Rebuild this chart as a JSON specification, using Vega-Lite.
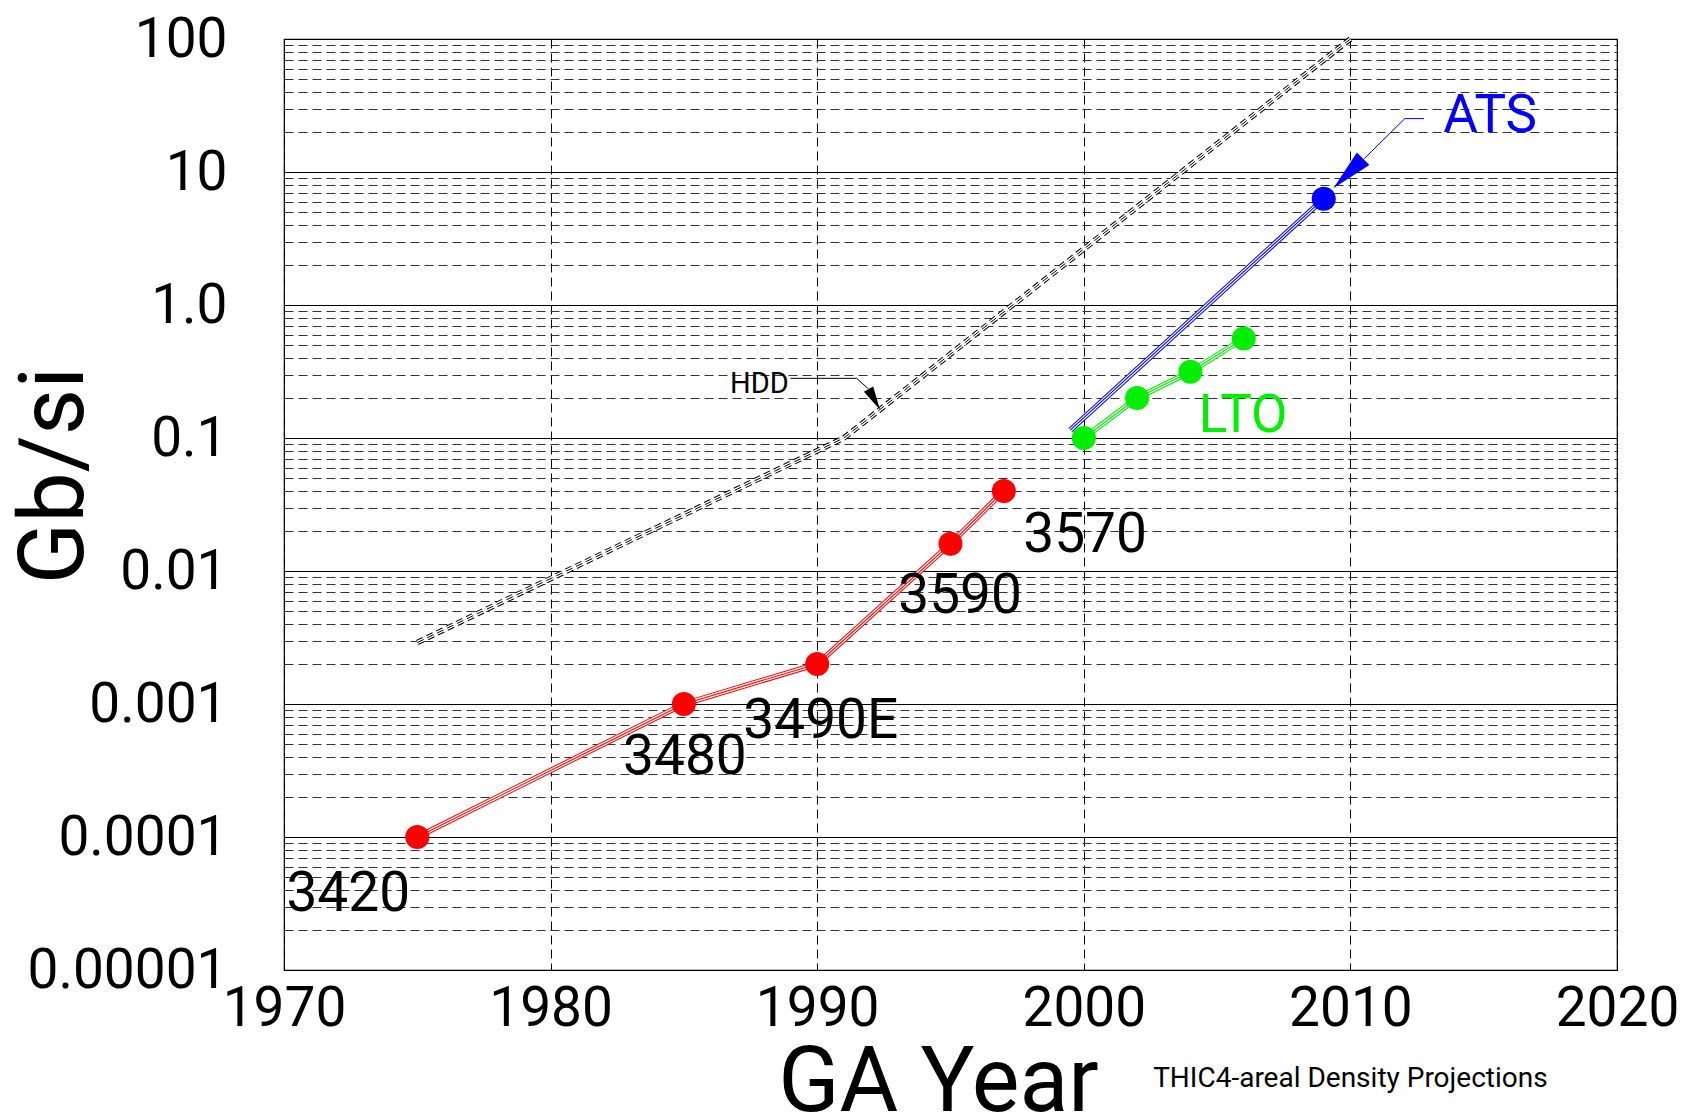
{
  "$schema": "https://vega.github.io/schema/vega-lite/v6.json",
  "width": 1333,
  "height": 931,
  "autosize": {"type": "none"},
  "padding": {"left": 284, "top": 39, "right": 68, "bottom": 147},
  "background": "white",
  "config": {"view": {"stroke": "#000", "strokeWidth": 1.2}, "font": "Roboto"},
  "datasets": {
    "lines": [
      {"series": "tape", "year": 1975, "value": 0.0001},
      {"series": "tape", "year": 1985, "value": 0.001},
      {"series": "tape", "year": 1990, "value": 0.002},
      {"series": "tape", "year": 1995, "value": 0.016},
      {"series": "tape", "year": 1997, "value": 0.04},
      {"series": "LTO", "year": 2000, "value": 0.1},
      {"series": "LTO", "year": 2002, "value": 0.2},
      {"series": "LTO", "year": 2004, "value": 0.315},
      {"series": "LTO", "year": 2006, "value": 0.56},
      {"series": "ATS", "year": 1999.5, "value": 0.115},
      {"series": "ATS", "year": 2009, "value": 6.3}
    ],
    "points": [
      {"series": "tape", "year": 1975, "value": 0.0001},
      {"series": "tape", "year": 1985, "value": 0.001},
      {"series": "tape", "year": 1990, "value": 0.002},
      {"series": "tape", "year": 1995, "value": 0.016},
      {"series": "tape", "year": 1997, "value": 0.04},
      {"series": "LTO", "year": 2000, "value": 0.1},
      {"series": "LTO", "year": 2002, "value": 0.2},
      {"series": "LTO", "year": 2004, "value": 0.315},
      {"series": "LTO", "year": 2006, "value": 0.56},
      {"series": "ATS", "year": 2009, "value": 6.3}
    ],
    "hdd": [
      {"year": 1975, "value": 0.0029},
      {"year": 1991, "value": 0.1},
      {"year": 2010, "value": 100}
    ],
    "tapeLabels": [
      {"text": "3420", "year": 1970.09, "value": 0.0000276},
      {"text": "3480", "year": 1982.72, "value": 0.000299},
      {"text": "3490E", "year": 1987.23, "value": 0.000555},
      {"text": "3590", "year": 1993.04, "value": 0.00484},
      {"text": "3570", "year": 1997.73, "value": 0.014}
    ],
    "hddLabel": [{"text": "HDD", "year": 1986.73, "value": 0.218}],
    "ltoLabel": [{"text": "LTO", "year": 2004.31, "value": 0.1115}],
    "atsLabel": [{"text": "ATS", "year": 2013.48, "value": 20.0}],
    "hddLeader": [
      {"year": 1989.0, "value": 0.281},
      {"year": 1991.48, "value": 0.281},
      {"year": 1991.93, "value": 0.233}
    ],
    "atsLeader": [
      {"year": 2010.52, "value": 12.6},
      {"year": 2012.04, "value": 25.2},
      {"year": 2012.76, "value": 25.2}
    ],
    "hddArrow": [{"year": 1992.14, "value": 0.195}],
    "atsArrow": [{"year": 2009.92, "value": 9.74}],
    "note": [{"text": "THIC4-areal Density Projections", "year": 2010, "value": 0.00000132}]
  },
  "encoding": {
    "x": {
      "field": "year",
      "type": "quantitative",
      "scale": {"domain": [1970, 2020], "nice": false, "zero": false},
      "axis": {
        "title": "GA Year",
        "titleFont": "Roboto",
        "titleFontSize": 90,
        "titleFontWeight": "normal",
        "titleColor": "#000",
        "titleX": 654,
        "titleY": 140,
        "titleAlign": "center",
        "titleBaseline": "alphabetic",
        "values": [1970, 1980, 1990, 2000, 2010, 2020],
        "format": "d",
        "labelFont": "Roboto",
        "labelFontSize": 55,
        "labelColor": "#000",
        "labelPadding": 12,
        "labelFlush": false,
        "labelOverlap": false,
        "labelLimit": 0,
        "ticks": false,
        "domain": false,
        "grid": true,
        "gridColor": "#000",
        "gridDash": [9, 5],
        "gridWidth": 1
      }
    },
    "y": {
      "field": "value",
      "type": "quantitative",
      "scale": {"type": "log", "domain": [0.00001, 100], "nice": false},
      "axis": {
        "title": "Gb/si",
        "titleFont": "Roboto",
        "titleFontSize": 90,
        "titleFontWeight": "normal",
        "titleColor": "#000",
        "titleAngle": -90,
        "titleX": -229,
        "titleY": 436,
        "titleAlign": "center",
        "titleBaseline": "middle",
        "titleLimit": 0,
        "values": [0.00001, 0.00002, 0.00003, 0.00004, 0.00005, 0.00006, 0.00007, 0.00008, 0.00009,
                   0.0001, 0.0002, 0.0003, 0.0004, 0.0005, 0.0006, 0.0007, 0.0008, 0.0009,
                   0.001, 0.002, 0.003, 0.004, 0.005, 0.006, 0.007, 0.008, 0.009,
                   0.01, 0.02, 0.03, 0.04, 0.05, 0.06, 0.07, 0.08, 0.09,
                   0.1, 0.2, 0.3, 0.4, 0.5, 0.6, 0.7, 0.8, 0.9,
                   1, 2, 3, 4, 5, 6, 7, 8, 9,
                   10, 20, 30, 40, 50, 60, 70, 80, 90, 100],
        "labelExpr": "indexof([0.00001,0.0001,0.001,0.01,0.1,1,10,100], datum.value) >= 0 ? ['0.00001','0.0001','0.001','0.01','0.1','1.0','10','100'][indexof([0.00001,0.0001,0.001,0.01,0.1,1,10,100], datum.value)] : ''",
        "labelFont": "Roboto",
        "labelFontSize": 55,
        "labelColor": "#000",
        "labelPadding": 57,
        "labelOverlap": false,
        "labelBound": false,
        "labelLimit": 0,
        "ticks": false,
        "domain": false,
        "grid": true,
        "gridColor": {"condition": {"test": "indexof([0.00001,0.0001,0.001,0.01,0.1,1,10,100], datum.value) >= 0", "value": "#000"}, "value": "#333"},
        "gridDash": {"condition": {"test": "indexof([0.00001,0.0001,0.001,0.01,0.1,1,10,100], datum.value) >= 0", "value": []}, "value": [9, 5]},
        "gridWidth": {"condition": {"test": "indexof([0.00001,0.0001,0.001,0.01,0.1,1,10,100], datum.value) >= 0", "value": 1.2}, "value": 1}
      }
    }
  },
  "layer": [
    {
      "data": {"name": "hdd"},
      "mark": {"type": "line", "strokeWidth": 5.5, "color": "#000", "strokeDash": [7, 4]},
      "encoding": {}
    },
    {
      "data": {"name": "hdd"},
      "mark": {"type": "line", "strokeWidth": 3.5, "color": "#fff"},
      "encoding": {}
    },
    {
      "data": {"name": "hdd"},
      "mark": {"type": "line", "strokeWidth": 1, "color": "#000", "strokeDash": [7, 4]},
      "encoding": {}
    },
    {
      "data": {"name": "lines"},
      "mark": {"type": "line", "strokeWidth": 5.5},
      "encoding": {
        "color": {"field": "series", "type": "nominal", "scale": {"domain": ["tape", "LTO", "ATS"], "range": ["#ff0000", "#00ee00", "#0000ff"]}, "legend": null}
      }
    },
    {
      "data": {"name": "lines"},
      "mark": {"type": "line", "strokeWidth": 3.5, "color": "#fff"},
      "encoding": {"detail": {"field": "series", "type": "nominal"}}
    },
    {
      "data": {"name": "lines"},
      "mark": {"type": "line", "strokeWidth": 1.1},
      "encoding": {
        "color": {"field": "series", "type": "nominal", "legend": null}
      }
    },
    {
      "data": {"name": "points"},
      "mark": {"type": "point", "shape": "circle", "filled": true, "size": 580, "opacity": 1, "strokeWidth": 0},
      "encoding": {
        "color": {"field": "series", "type": "nominal", "legend": null}
      }
    },
    {
      "data": {"name": "hddLeader"},
      "mark": {"type": "line", "strokeWidth": 1, "color": "#000"},
      "encoding": {}
    },
    {
      "data": {"name": "atsLeader"},
      "mark": {"type": "line", "strokeWidth": 1, "color": "#0000ff"},
      "encoding": {}
    },
    {
      "data": {"name": "hddArrow"},
      "mark": {"type": "point", "shape": "M0,-1L0.45,1L-0.45,1Z", "filled": true, "size": 557, "angle": 151, "opacity": 1, "color": "#000", "strokeWidth": 0},
      "encoding": {}
    },
    {
      "data": {"name": "atsArrow"},
      "mark": {"type": "point", "shape": "M0,-1L0.42,1L-0.42,1Z", "filled": true, "size": 1764, "angle": 225, "opacity": 1, "color": "#0000ff", "strokeWidth": 0},
      "encoding": {}
    },
    {
      "data": {"name": "tapeLabels"},
      "mark": {"type": "text", "align": "left", "baseline": "alphabetic", "fontSize": 55, "font": "Roboto", "color": "#000"},
      "encoding": {"text": {"field": "text", "type": "nominal"}}
    },
    {
      "data": {"name": "hddLabel"},
      "mark": {"type": "text", "align": "left", "baseline": "alphabetic", "fontSize": 29, "font": "Roboto", "color": "#000"},
      "encoding": {"text": {"field": "text", "type": "nominal"}}
    },
    {
      "data": {"name": "ltoLabel"},
      "mark": {"type": "text", "align": "left", "baseline": "alphabetic", "fontSize": 53, "font": "Roboto", "color": "#00ee00"},
      "encoding": {"text": {"field": "text", "type": "nominal"}}
    },
    {
      "data": {"name": "atsLabel"},
      "mark": {"type": "text", "align": "left", "baseline": "alphabetic", "fontSize": 53, "font": "Roboto", "color": "#0000ff"},
      "encoding": {"text": {"field": "text", "type": "nominal"}}
    },
    {
      "data": {"name": "note"},
      "mark": {"type": "text", "align": "center", "baseline": "alphabetic", "fontSize": 28, "font": "Roboto", "color": "#000"},
      "encoding": {"text": {"field": "text", "type": "nominal"}}
    }
  ]
}
